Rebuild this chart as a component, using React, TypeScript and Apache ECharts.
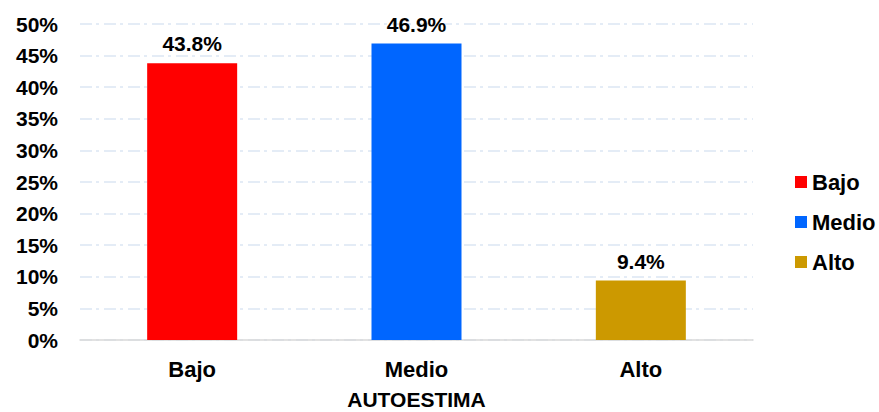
import React, { useEffect, useRef } from "react";
import * as echarts from "echarts";

const categories = ["Bajo", "Medio", "Alto"];
const seriesNames = ["Bajo", "Medio", "Alto"];
const values = [43.8, 46.9, 9.4];
const colors = ["#ff0000", "#0066ff", "#cc9900"];
const axisTitle = "AUTOESTIMA";

export default function App() {
  const ref = useRef<HTMLDivElement>(null);
  useEffect(() => {
    document.body.style.margin = "0";
    if (!ref.current) return;
    const chart = echarts.init(ref.current, undefined, { renderer: "svg" });
    const font = "Liberation Sans, Arial, sans-serif";
    chart.setOption({
      animation: false,
      grid: { left: 80, right: 126, top: 24, bottom: 72, outerBoundsMode: "none", containLabel: false },
      legend: {
        orient: "vertical",
        left: 790,
        top: 166,
        itemWidth: 12,
        itemHeight: 12,
        itemGap: 18,
        icon: "rect",
        textStyle: { fontFamily: font, fontWeight: "bold", fontSize: 22, color: "#000" },
        data: seriesNames,
      },
      xAxis: {
        type: "category",
        data: categories,
        name: axisTitle,
        nameLocation: "middle",
        nameGap: 49,
        nameTextStyle: { fontFamily: font, fontWeight: "bold", fontSize: 21, color: "#000", lineHeight: 20 },
        axisLine: { lineStyle: { color: "#d9d9d9", width: 1.5 } },
        axisTick: { show: false },
        axisLabel: { fontFamily: font, fontWeight: "bold", fontSize: 22, color: "#000", margin: 18 },
      },
      yAxis: {
        type: "value",
        min: 0,
        max: 50,
        interval: 5,
        axisLine: { show: false },
        axisTick: { show: false },
        axisLabel: {
          formatter: "{value}%",
          fontFamily: font,
          fontWeight: "bold",
          fontSize: 21,
          color: "#000",
          margin: 22,
        },
        splitLine: { lineStyle: { color: "#dce6f4", width: 1.5, type: [12, 4, 3, 5] } },
      },
      series: seriesNames.map((name, i) => ({
        name,
        type: "bar",
        barWidth: 90,
        barGap: "-100%",
        itemStyle: { color: colors[i] },
        data: categories.map((_, j) => (j === i ? values[i] : null)),
        label: {
          show: true,
          position: "top",
          distance: 9,
          formatter: (p: any) => p.value.toFixed(1) + "%",
          fontFamily: font,
          fontWeight: "bold",
          fontSize: 21,
          color: "#000",
        },
      })),
    });
    return () => chart.dispose();
  }, []);
  return <div ref={ref} style={{ width: 879, height: 412 }} />;
}
